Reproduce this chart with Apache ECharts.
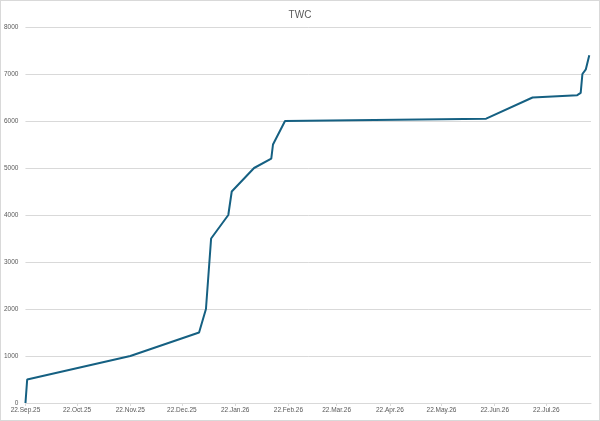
<!DOCTYPE html>
<html lang="en">

<head>
    <meta charset="UTF-8">
    <title>TWC</title>
    <script src="https://cdn.jsdelivr.net/npm/echarts@6/dist/echarts.min.js"></script>
    <style>
        html, body {
            margin: 0;
            padding: 0;
            background: #fff;
        }
        .chart {
            width: 598px;
            height: 419px;
            border: 1px solid #d9d9d9;
        }
    </style>
</head>

<body>
    <div class="chart"></div>
</body>
<script>
    // data
    const dates = ['2025-09-22', '2025-09-23', '2025-11-22', '2026-01-01', '2026-01-05', '2026-01-08',
        '2026-01-18', '2026-01-20', '2026-02-02', '2026-02-12', '2026-02-13', '2026-02-20',
        '2026-06-17', '2026-07-14', '2026-08-09', '2026-08-11', '2026-08-12', '2026-08-14', '2026-08-16']
    const values = [0, 500, 1000, 1500, 2000, 3500, 4000, 4500, 5000, 5200, 5500, 6000,
        6050, 6500, 6550, 6600, 7000, 7100, 7400]

    const tickDates = ['2025-09-22', '2025-10-22', '2025-11-22', '2025-12-22', '2026-01-22', '2026-02-22',
        '2026-03-22', '2026-04-22', '2026-05-22', '2026-06-22', '2026-07-22']
    const tickLabels = ['22.Sep.25', '22.Oct.25', '22.Nov.25', '22.Dec.25', '22.Jan.26', '22.Feb.26',
        '22.Mar.26', '22.Apr.26', '22.May.26', '22.Jun.26', '22.Jul.26']

    // dates as day numbers (UTC) so the axis is a plain value axis
    function toDay(s) {
        const p = s.split('-').map(Number)
        return Date.UTC(p[0], p[1] - 1, p[2]) / 86400000
    }

    const tickDays = tickDates.map(toDay)
    const labelOf = {}
    tickDays.forEach((t, i) => { labelOf[t] = tickLabels[i] })

    const font = '"Liberation Sans", Arial, sans-serif'
    const grey = '#595959'

    let chart = echarts.init(document.querySelector('.chart'))
    let option = {
        animation: false,
        title: {
            text: 'TWC',
            left: 'center',
            top: 4,
            textStyle: {
                fontFamily: font,
                fontSize: 10,
                fontWeight: 'normal',
                color: grey
            }
        },
        grid: {
            left: 24,
            right: 8,
            top: 26,
            bottom: 17,
            containLabel: false
        },
        xAxis: {
            type: 'value',
            min: toDay('2025-09-22'),
            max: toDay('2026-08-17'),
            axisLine: { show: true, lineStyle: { color: '#d9d9d9', width: 1 } },
            axisTick: {
                show: true,
                customValues: tickDays,
                length: 3,
                lineStyle: { color: '#d9d9d9' }
            },
            axisLabel: {
                customValues: tickDays,
                formatter: v => labelOf[v] || '',
                fontFamily: font,
                fontSize: 6.5,
                color: grey,
                margin: 4,
                hideOverlap: false
            },
            splitLine: { show: false }
        },
        yAxis: {
            type: 'value',
            min: 0,
            max: 8000,
            interval: 1000,
            axisLine: { show: false },
            axisTick: { show: false },
            axisLabel: {
                formatter: v => String(v),
                fontFamily: font,
                fontSize: 6.5,
                color: grey,
                margin: 7
            },
            splitLine: { lineStyle: { color: '#d9d9d9', width: 1 } }
        },
        series: [{
            name: 'TWC',
            type: 'line',
            data: dates.map((d, i) => [toDay(d), values[i]]),
            showSymbol: false,
            lineStyle: { color: '#156082', width: 2 },
            itemStyle: { color: '#156082' }
        }]
    };
    chart.setOption(option)
</script>

</html>
